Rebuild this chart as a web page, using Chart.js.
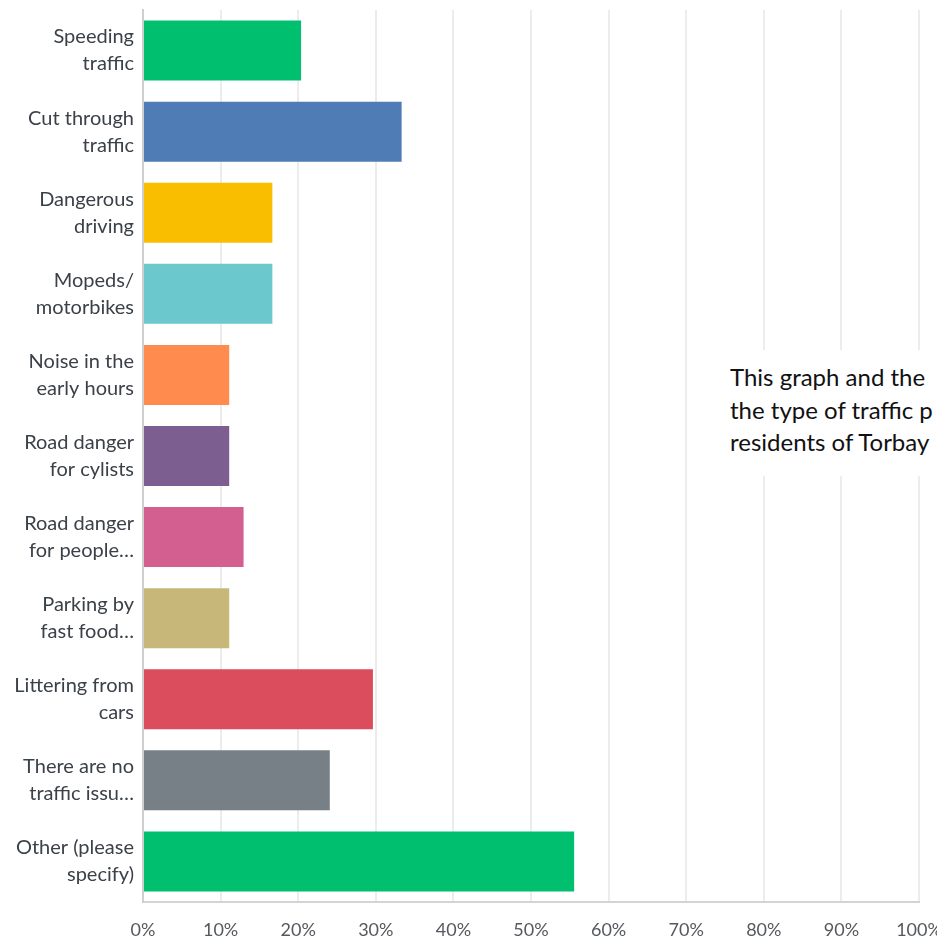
<!DOCTYPE html>
<html>
<head>
<meta charset="utf-8">
<script src="https://cdn.jsdelivr.net/npm/chart.js@4"></script>
<style>
  html, body { margin: 0; padding: 0; background: #fff; overflow: hidden; }
  #wrap { position: relative; width: 937px; height: 941px; }
  #note {
    position: absolute; left: 720px; top: 350px; width: 260px; height: 126px;
    background: #fff; box-sizing: border-box; padding: 11px 0 0 10px;
    font-family: Lato, sans-serif; font-size: 24px; line-height: 32.5px; color: #111;
    white-space: nowrap;
  }
</style>
</head>
<body>
<div id="wrap">
  <canvas id="plot" width="937" height="941"></canvas>
  <div id="note">This graph and the<br>the type of traffic p<br>residents of Torbay</div>
</div>
<script>
// answer options, wrapped the way the survey export shows them
const answers = [
  ['Speeding', 'traffic'],
  ['Cut through', 'traffic'],
  ['Dangerous', 'driving'],
  ['Mopeds/', 'motorbikes'],
  ['Noise in the', 'early hours'],
  ['Road danger', 'for cylists'],
  ['Road danger', 'for people…'],
  ['Parking by', 'fast food…'],
  ['Littering from', 'cars'],
  ['There are no', 'traffic issu…'],
  ['Other (please', 'specify)']
];
// share of respondents, percent
const responsePct = [20.37, 33.33, 16.67, 16.67, 11.11, 11.11, 12.96, 11.11, 29.63, 24.07, 55.56];
const barColors = ['#00bf6f', '#507cb6', '#f9be00', '#6bc8cd', '#ff8b4f', '#7d5e90',
                   '#d25f90', '#c7b879', '#db4d5c', '#768086', '#00bf6f'];
const pctTicks = [0, 10, 20, 30, 40, 50, 60, 70, 80, 90, 100];

const ctx = document.getElementById('plot').getContext('2d');
new Chart(ctx, {
  type: 'bar',
  data: {
    labels: answers,
    datasets: [{
      data: responsePct,
      backgroundColor: barColors,
      borderWidth: 0,
      categoryPercentage: 1,
      barPercentage: 0.74
    }]
  },
  options: {
    indexAxis: 'y',
    responsive: false,
    animation: false,
    layout: { autoPadding: false, padding: { top: 10, right: 18, bottom: 0, left: 0 } },
    plugins: { legend: { display: false }, tooltip: { enabled: false } },
    scales: {
      x: {
        min: 0,
        max: 100,
        afterBuildTicks: (axis) => { axis.ticks = pctTicks.map(v => ({ value: v })); },
        afterFit: (axis) => {
          // fixed strip under the plot; let the 100% label hang into the margin
          axis.height = 39;
          axis.paddingLeft = 0;
          axis.paddingRight = 0;
        },
        grid: { color: '#ececec', lineWidth: 2, drawTicks: false },
        border: { color: '#d4d4d4', width: 2 },
        ticks: {
          padding: 17,
          color: '#55595e',
          font: { family: 'Lato', size: 18 },
          callback: (v) => v + '%'
        }
      },
      y: {
        afterFit: (axis) => {
          axis.width = 143;
          axis.paddingTop = 0;
          axis.paddingBottom = 0;
        },
        grid: { display: false, drawTicks: false },
        border: { color: '#cfcfcf', width: 2 },
        ticks: {
          padding: 9,
          color: '#3b4148',
          font: { family: 'Lato', size: 20, lineHeight: 1.35 }
        }
      }
    }
  }
});
</script>
</body>
</html>
